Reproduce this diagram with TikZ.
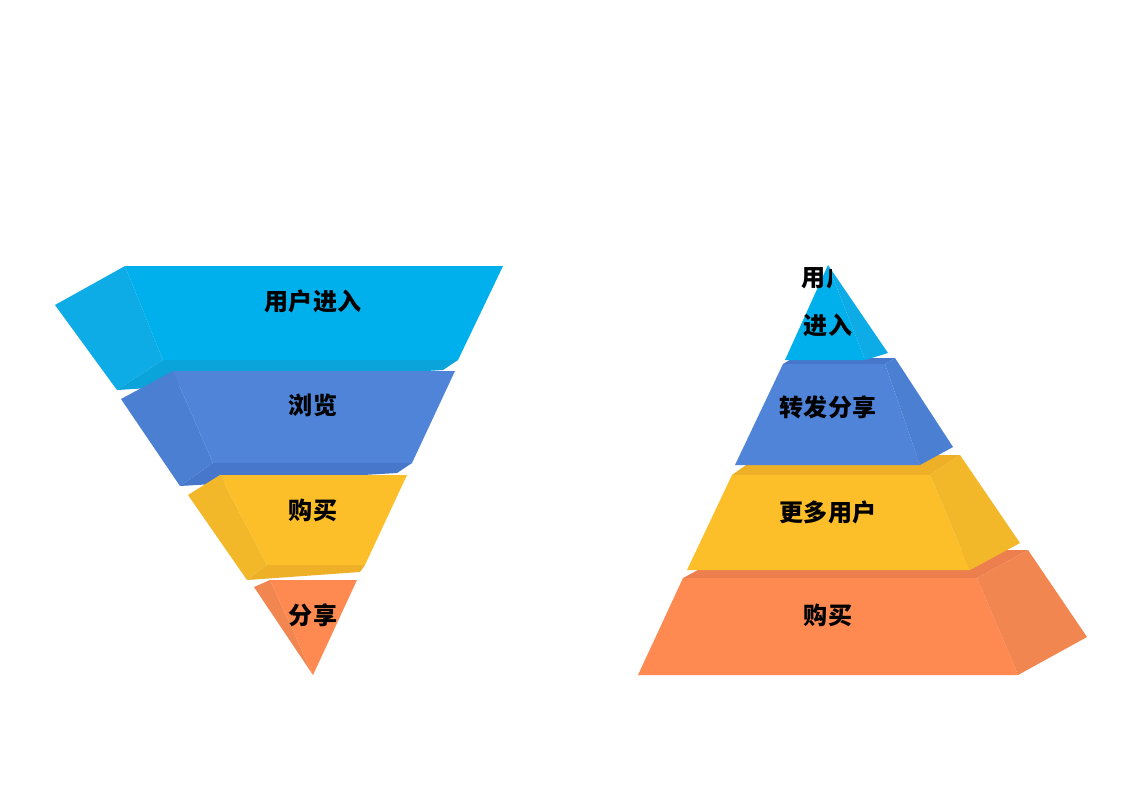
\documentclass[tikz,border=0pt]{standalone}
\usepackage{fontspec}
\newfontfamily\cjk{Noto Sans CJK SC}
\definecolor{cyanF}{HTML}{00B0EC}
\definecolor{cyanS}{HTML}{0EACE6}
\definecolor{cyanB}{HTML}{0AA3DA}
\definecolor{blueF}{HTML}{4F84D8}
\definecolor{blueS}{HTML}{4B7FD2}
\definecolor{blueB}{HTML}{4777CA}
\definecolor{yelF}{HTML}{FCBF2A}
\definecolor{yelS}{HTML}{F3B82A}
\definecolor{yelB}{HTML}{EEB027}
\definecolor{oraF}{HTML}{FE8A52}
\definecolor{oraS}{HTML}{F28651}
\definecolor{oraB}{HTML}{ED7F4E}
\tikzset{
  label/.style={font=\cjk\bfseries\fontsize{20.5}{24}\selectfont, text=black, inner sep=0pt, align=center},
}
\begin{document}
\begin{tikzpicture}[x=0.03cm,y=-0.03cm]
\useasboundingbox[fill=white] (0,0) rectangle (1132,800);

%Imbuto a sinistra
\fill[cyanS] (55,305) -- (125,266) -- (163,360) -- (117,390) -- cycle;
\fill[cyanF] (125,266) -- (503,266) -- (458,360) -- (163,360) -- cycle;
\fill[cyanB] (117,390) -- (163,360) -- (458,360) -- (443,370) -- cycle;

\fill[blueS] (121,399) -- (173,371) -- (213,463) -- (180,486) -- cycle;
\fill[blueF] (173,371) -- (455,371) -- (412,463) -- (213,463) -- cycle;
\fill[blueB] (180,486) -- (213,463) -- (412,463) -- (397,473) -- cycle;

\fill[yelS] (188,495) -- (220,475) -- (267,565) -- (247,580) -- cycle;
\fill[yelF] (220,475) -- (407,475) -- (365,565) -- (267,565) -- cycle;
\fill[yelB] (247,580) -- (267,565) -- (365,565) -- (360,572) -- cycle;

\fill[oraS] (254,587) -- (270,580) -- (313,675) -- cycle;
\fill[oraF] (270,580) -- (357,580) -- (313,675) -- cycle;

\node[label] (f1) at (313,301) {用户进入};
\node[label] (f2) at (313,405) {浏览};
\node[label] (f3) at (313,510) {购买};
\node[label] (f4) at (313,615) {分享};

%Piramide a destra
\fill[oraB] (683,578) -- (977,578) -- (1028,550) -- (735,550) -- cycle;
\fill[oraF] (683,578) -- (977,578) -- (1018,675) -- (638,675) -- cycle;
\fill[oraS] (977,578) -- (1028,550) -- (1087,637) -- (1018,675) -- cycle;

\fill[yelB] (732,475) -- (930,475) -- (960,455) -- (760,455) -- cycle;
\fill[yelF] (732,475) -- (930,475) -- (970,570) -- (687,570) -- cycle;
\fill[yelS] (930,475) -- (960,455) -- (1020,543) -- (970,570) -- cycle;

\fill[blueB] (783,364) -- (885,364) -- (895,358) -- (793,358) -- cycle;
\fill[blueF] (783,364) -- (885,364) -- (920,465) -- (735,465) -- cycle;
\fill[blueS] (885,364) -- (895,358) -- (953,447) -- (920,465) -- cycle;

\fill[cyanF] (828,265) -- (865,360) -- (785,360) -- cycle;
\fill[cyanS] (828,265) -- (888,353) -- (865,360) -- cycle;

\begin{scope}
  \clip (790,255) rectangle (831,295);
  \node[label] (p1a) at (826,277) {用户};
\end{scope}
\node[label] (p1b) at (828,325) {进入};
\node[label] (p2) at (828,407) {转发分享};
\node[label] (p3) at (828,512) {更多用户};
\node[label] (p4) at (828,615) {购买};
\end{tikzpicture}
\end{document}
